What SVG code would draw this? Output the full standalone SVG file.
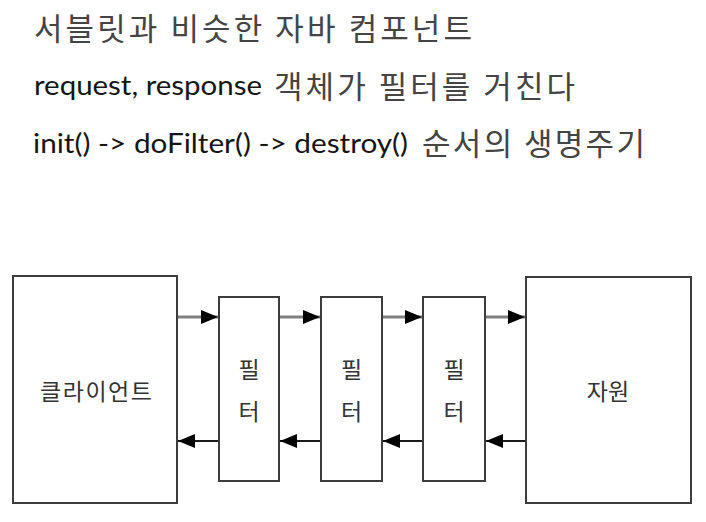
<svg xmlns="http://www.w3.org/2000/svg" width="706" height="522" viewBox="0 0 706 522">
<style>
.lat{font-family:"Lato","Open Sans","Liberation Sans",sans-serif;fill:#151515;font-size:26px}
.kor{font-family:"Noto Sans CJK KR","Noto Sans",sans-serif;fill:#444;font-size:31px}
.lbl{font-family:"Noto Sans CJK KR","Noto Sans",sans-serif;fill:#333;font-size:23px}
.box{fill:#fff;stroke:#3c3c3c;stroke-width:2}
.fwd{stroke:#808080;stroke-width:3;fill:none}
.bwd{stroke:#1a1a1a;stroke-width:2;fill:none}
</style>
<defs>
<marker id="ah" markerUnits="userSpaceOnUse" markerWidth="18" markerHeight="16" refX="17" refY="8" orient="auto">
<path d="M0,1 L17,8 L0,15 Z" fill="#000"/>
</marker>
</defs>
<rect width="706" height="522" fill="#fff"/>
<g id="title">
<text class="kor" x="34" y="40" textLength="438" lengthAdjust="spacing">서블릿과 비슷한 자바 컴포넌트</text>
<text class="lat" x="34" y="95" textLength="228" lengthAdjust="spacingAndGlyphs">request, response</text>
<text class="kor" x="274" y="98" textLength="301" lengthAdjust="spacing">객체가 필터를 거친다</text>
<text class="lat" x="33" y="153" textLength="375" lengthAdjust="spacingAndGlyphs">init() -&gt; doFilter() -&gt; destroy()</text>
<text class="kor" x="422" y="155" textLength="223" lengthAdjust="spacing">순서의 생명주기</text>
</g>
<g id="client">
<rect class="box" x="13" y="276" width="164" height="227"/>
<text class="lbl" x="40" y="400" textLength="112" lengthAdjust="spacing">클라이언트</text>
</g>
<g id="filter1">
<rect class="box" x="219" y="297" width="60" height="184"/>
<text class="lbl" x="249" y="378" text-anchor="middle">필</text>
<text class="lbl" x="249" y="420" text-anchor="middle">터</text>
</g>
<g id="filter2">
<rect class="box" x="321" y="297" width="61" height="184"/>
<text class="lbl" x="351.5" y="378" text-anchor="middle">필</text>
<text class="lbl" x="351.5" y="420" text-anchor="middle">터</text>
</g>
<g id="filter3">
<rect class="box" x="423" y="297" width="62" height="184"/>
<text class="lbl" x="454" y="378" text-anchor="middle">필</text>
<text class="lbl" x="454" y="420" text-anchor="middle">터</text>
</g>
<g id="resource">
<rect class="box" x="526" y="277" width="165" height="226"/>
<text class="lbl" x="608" y="400" text-anchor="middle">자원</text>
</g>
<g id="connectors">
<line class="fwd" x1="178" y1="317" x2="218" y2="317" marker-end="url(#ah)"/>
<line class="fwd" x1="280" y1="317" x2="320" y2="317" marker-end="url(#ah)"/>
<line class="fwd" x1="383" y1="317" x2="422" y2="317" marker-end="url(#ah)"/>
<line class="fwd" x1="486" y1="317" x2="525" y2="317" marker-end="url(#ah)"/>
<line class="bwd" x1="218" y1="441" x2="178" y2="441" marker-end="url(#ah)"/>
<line class="bwd" x1="320" y1="441" x2="280" y2="441" marker-end="url(#ah)"/>
<line class="bwd" x1="422" y1="441" x2="383" y2="441" marker-end="url(#ah)"/>
<line class="bwd" x1="525" y1="441" x2="486" y2="441" marker-end="url(#ah)"/>
</g>
</svg>
